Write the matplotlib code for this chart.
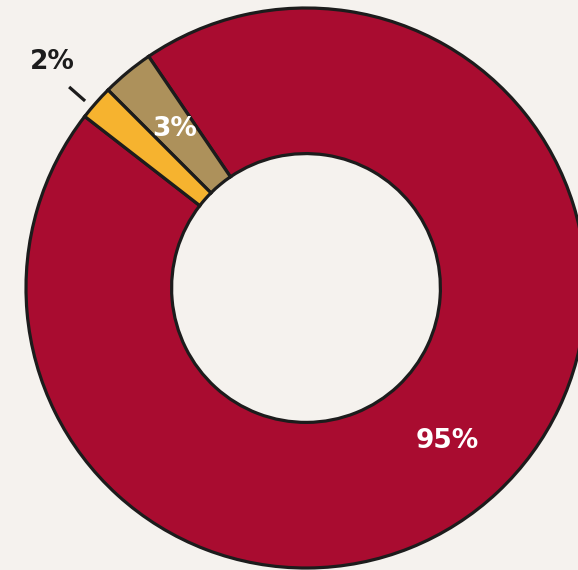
import matplotlib.pyplot as plt

# slice data (counter-clockwise from start angle)
labels = ["95%", "3%", "2%"]
values = [95, 3, 2]
colors = ["#a90c30", "#ad915b", "#f6b32f"]

bg = "#f5f2ee"
edge = "#1c1c1c"

fig = plt.figure(figsize=(5.78, 5.70), dpi=100, facecolor=bg)
ax = fig.add_axes([0, 0, 1, 1])
ax.set_facecolor(bg)

ax.pie(
    values,
    colors=colors,
    startangle=142.2,
    counterclock=True,
    radius=1.0,
    wedgeprops=dict(width=0.52, edgecolor=edge, linewidth=2.3),
)

# labels
font = dict(fontsize=19, fontweight="bold", family="DejaVu Sans", ha="center", va="center")
ax.text(0.504, -0.546, labels[0], color="white", **font)
ax.text(-0.468, 0.568, labels[1], color="white", **font)
ax.text(-0.907, 0.807, labels[2], color=edge, **font)
ax.plot([-0.846, -0.789], [0.718, 0.668], color=edge, linewidth=2.3, solid_capstyle="butt")

ax.set_xlim(-306 / 280, 272 / 280)
ax.set_ylim(-282 / 280, 288 / 280)
ax.set_aspect("auto")
ax.axis("off")

fig.savefig("out.png", dpi=100, facecolor=bg)
